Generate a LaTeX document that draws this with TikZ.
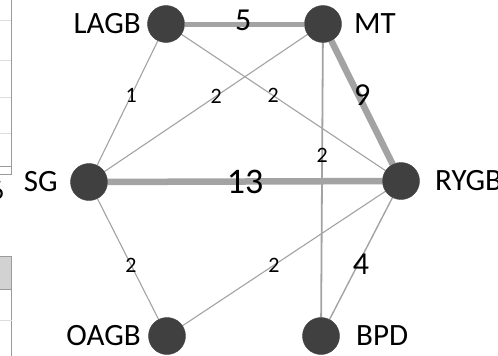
\documentclass[tikz,border=0pt]{standalone}
\usepackage{fontspec}
\setmainfont{Carlito}
\usetikzlibrary{backgrounds}
\definecolor{nodegray}{HTML}{404040}
\definecolor{edgegray}{HTML}{A3A3A3}
\definecolor{gridgray}{HTML}{9A9A9A}
\definecolor{gridlight}{HTML}{DDDDDD}
\definecolor{headgray}{HTML}{D2D2D2}
\tikzset{
  vertex/.style={circle, fill=nodegray, draw=nodegray, minimum size=37pt, inner sep=0pt},
  vlabel/.style={inner sep=0pt, font=\fontsize{31}{31}\selectfont, text=black},
  thin edge/.style={draw=edgegray, line width=1.1pt},
  mid edge/.style={draw=edgegray, line width=1.8pt},
  thick edge/.style={draw=edgegray, line width=#1},
  wsmall/.style={inner sep=0pt, font=\fontsize{22}{22}\selectfont, text=black},
  wbig/.style={inner sep=0pt, font=\fontsize{32}{32}\selectfont, text=black},
  wbigger/.style={inner sep=0pt, font=\fontsize{36}{36}\selectfont, text=black},
}
\begin{document}
\begin{tikzpicture}[x=1pt, y=-1pt]
\clip (0,0) rectangle (498,356);
% cropped table fragments at the left edge
\draw[gridlight, line width=0.8pt] (0,20) -- (11.5,20) (0,60) -- (11.5,60) (0,97) -- (11.5,97) (0,133) -- (11.5,133);
\draw[gridgray, line width=1pt] (11.5,0) -- (11.5,174) (0,166) -- (11.5,166) (0,174) -- (11.5,174);
\node[inner sep=0pt, font=\fontsize{26}{26}\selectfont, anchor=east] (frag6) at (4,191) {6};
\fill[headgray] (0,256) rectangle (11.5,289);
\draw[gridgray, line width=1pt] (0,256) -- (11.5,256) (0,289) -- (11.5,289) (11.5,256) -- (11.5,356);
\draw[gridlight, line width=0.8pt] (0,320) -- (11.5,320);
% vertices
\node[vertex] (LAGB) at (166,24) {};
\node[vertex] (MT) at (323,24) {};
\node[vertex] (SG) at (89,182) {};
\node[vertex] (RYGB) at (401,181) {};
\node[vertex] (OAGB) at (167,336) {};
\node[vertex] (BPD) at (321,336) {};
% vertex labels
\node[vlabel, anchor=east] (tLAGB) at (141,24) {LAGB};
\node[vlabel, anchor=west] (tMT) at (354,24) {MT};
\node[vlabel, anchor=east] (tSG) at (58,182) {SG};
\node[vlabel, anchor=west] (tRYGB) at (435,181) {RYGB};
\node[vlabel, anchor=east] (tOAGB) at (141,336) {OAGB};
\node[vlabel, anchor=west] (tBPD) at (356,336) {BPD};
% edges
\begin{scope}[on background layer]
\fill[white] (0,0) rectangle (498,356);
\draw[thin edge] (LAGB) -- node[wsmall, pos=0.44] (w1) {1} (SG);
\draw[thin edge] (SG) -- node[wsmall, pos=0.55] (w2) {2} (MT);
\draw[thin edge] (LAGB) -- node[wsmall, pos=0.45] (w3) {2} (RYGB);
\draw[mid edge] (MT) -- node[wsmall, pos=0.41] (w4) {2} (BPD);
\draw[thin edge] (SG) -- node[wsmall, pos=0.55] (w5) {2} (OAGB);
\draw[thin edge] (OAGB) -- node[wsmall, pos=0.45] (w6) {2} (RYGB);
\draw[thin edge, line width=1.4pt] (RYGB) -- node[wbig, pos=0.55, xshift=3pt] (w7) {4} (BPD);
\draw[thick edge=5pt] (LAGB) -- node[wbig, pos=0.49, yshift=4pt] (w8) {5} (MT);
\draw[thick edge=6.5pt] (MT) -- node[wbig, pos=0.44, xshift=4pt] (w9) {9} (RYGB);
\draw[thick edge=6.5pt] (SG) -- node[wbigger, pos=0.5] (w10) {13} (RYGB);
\end{scope}
\end{tikzpicture}
\end{document}
